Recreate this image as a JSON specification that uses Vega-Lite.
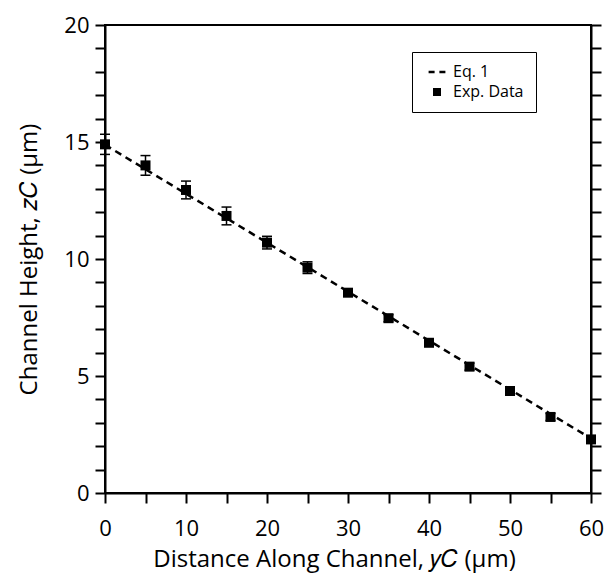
{
  "$schema": "https://vega.github.io/schema/vega-lite/v6.json",
  "width": 486,
  "height": 468,
  "autosize": "none",
  "padding": {"left": 105, "top": 25, "right": 16, "bottom": 88},
  "background": "white",
  "config": {
    "view": {"stroke": "black", "strokeWidth": 2},
    "font": "Open Sans",
    "axis": {"domainColor": "black", "domainWidth": 2, "tickColor": "black", "tickWidth": 2, "labelColor": "black", "titleColor": "black", "grid": false, "labelFont": "Open Sans", "titleFont": "Open Sans", "titleFontWeight": "normal", "labelFlush": false, "labelOverlap": false}
  },
  "datasets": {
    "exp": [
      {"x": 0, "z": 14.9, "zlo": 14.47, "zhi": 15.33, "series": "Exp. Data"},
      {"x": 5, "z": 14.0, "zlo": 13.58, "zhi": 14.42, "series": "Exp. Data"},
      {"x": 10, "z": 12.95, "zlo": 12.57, "zhi": 13.33, "series": "Exp. Data"},
      {"x": 15, "z": 11.84, "zlo": 11.46, "zhi": 12.22, "series": "Exp. Data"},
      {"x": 20, "z": 10.7, "zlo": 10.43, "zhi": 10.97, "series": "Exp. Data"},
      {"x": 25, "z": 9.63, "zlo": 9.38, "zhi": 9.88, "series": "Exp. Data"},
      {"x": 30, "z": 8.56, "zlo": 8.41, "zhi": 8.71, "series": "Exp. Data"},
      {"x": 35, "z": 7.47, "zlo": 7.32, "zhi": 7.62, "series": "Exp. Data"},
      {"x": 40, "z": 6.42, "zlo": 6.27, "zhi": 6.57, "series": "Exp. Data"},
      {"x": 45, "z": 5.4, "zlo": 5.25, "zhi": 5.55, "series": "Exp. Data"},
      {"x": 50, "z": 4.36, "zlo": 4.21, "zhi": 4.51, "series": "Exp. Data"},
      {"x": 55, "z": 3.25, "zlo": 3.1, "zhi": 3.4, "series": "Exp. Data"},
      {"x": 60, "z": 2.29, "zlo": 2.14, "zhi": 2.44, "series": "Exp. Data"}
    ],
    "eq": [
      {"x": 0, "z": 14.88},
      {"x": 60, "z": 2.33}
    ]
  },
  "resolve": {"axis": {"y": "independent"}},
  "layer": [
    {
      "data": {"name": "eq"},
      "mark": {"type": "line", "color": "black", "strokeDash": [7, 5], "strokeWidth": 2.5},
      "encoding": {
        "x": {"field": "x", "type": "quantitative", "scale": {"domain": [0, 60], "nice": false},
          "axis": {"orient": "bottom", "values": [0,5,10,15,20,25,30,35,40,45,50,55,60], "labelExpr": "datum.value % 10 === 0 ? datum.label : ''",
            "tickSize": 10, "labelFontSize": 22, "labelPadding": 15, "title": "Distance Along Channel, 𝑦𝐶 (μm)", "titleFontSize": 24, "titlePadding": 8, "titleX": 229}},
        "y": {"field": "z", "type": "quantitative", "scale": {"domain": [0, 20], "nice": false},
          "axis": {"orient": "left", "values": [0,1,2,3,4,5,6,7,8,9,10,11,12,13,14,15,16,17,18,19,20], "labelExpr": "datum.value % 5 === 0 ? datum.label : ''",
            "tickSize": 10, "labelFontSize": 22, "labelPadding": 6, "title": "Channel Height, 𝑧𝐶 (μm)", "titleFontSize": 24, "titlePadding": 22}}
      }
    },
    {
      "data": {"name": "exp"},
      "mark": {"type": "rule", "color": "black", "strokeWidth": 1.5},
      "encoding": {
        "x": {"field": "x", "type": "quantitative"},
        "y": {"field": "zlo", "type": "quantitative",
          "axis": {"orient": "right", "values": [0,1,2,3,4,5,6,7,8,9,10,11,12,13,14,15,16,17,18,19,20], "labels": false, "title": null, "tickSize": 10}},
        "y2": {"field": "zhi"}
      }
    },
    {
      "data": {"name": "exp"},
      "mark": {"type": "tick", "orient": "horizontal", "color": "black", "thickness": 1.5, "size": 10, "opacity": 1},
      "encoding": {
        "x": {"field": "x", "type": "quantitative"},
        "y": {"field": "zlo", "type": "quantitative", "axis": null}
      }
    },
    {
      "data": {"name": "exp"},
      "mark": {"type": "tick", "orient": "horizontal", "color": "black", "thickness": 1.5, "size": 10, "opacity": 1},
      "encoding": {
        "x": {"field": "x", "type": "quantitative"},
        "y": {"field": "zhi", "type": "quantitative", "axis": null}
      }
    },
    {
      "data": {"name": "exp"},
      "mark": {"type": "point", "filled": true, "size": 100, "color": "black", "opacity": 1},
      "encoding": {
        "x": {"field": "x", "type": "quantitative"},
        "y": {"field": "z", "type": "quantitative", "axis": null},
        "shape": {"field": "series", "type": "nominal",
          "scale": {"domain": ["Eq. 1", "Exp. Data"], "range": ["M-2.1,-0.3H-0.6V0.3H-2.1Z M0.6,-0.3H2.1V0.3H0.6Z", "square"]},
          "legend": {"orient": "none", "legendX": 307, "legendY": 27, "title": null,
            "strokeColor": "black", "fillColor": "white", "padding": 12,
            "symbolSize": 64, "symbolFillColor": "black", "symbolStrokeWidth": 0, "symbolOffset": 5,
            "labelFontSize": 16, "labelColor": "black", "labelOffset": 8, "rowPadding": 4, "labelLimit": 300,
            "labelExpr": "datum.label + '\u2003\u2003'"}}
      }
    }
  ]
}
